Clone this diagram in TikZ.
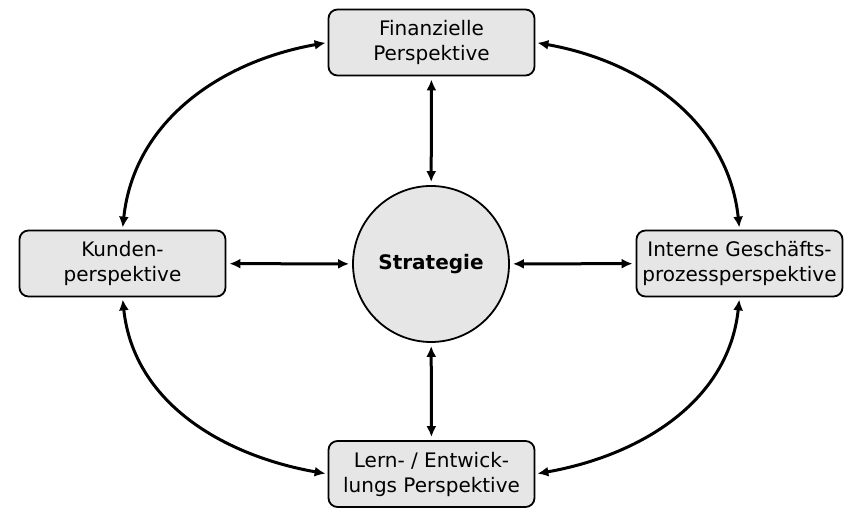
\documentclass[tikz,border=0pt]{standalone}
\usepackage{fontspec}
\setmainfont{DejaVu Sans}
\usetikzlibrary{arrows.meta}
\definecolor{boxgray}{HTML}{E6E6E6}
\begin{document}
\begin{tikzpicture}[x=1pt, y=1pt,
  perspbox/.style={draw, line width=1.8pt, fill=boxgray, rounded corners=9pt,
    align=center, minimum width=206pt, minimum height=66pt, inner sep=2pt,
    font=\fontsize{20}{25}\selectfont},
  stratcircle/.style={draw, circle, line width=1.8pt, fill=boxgray,
    minimum size=156pt, font=\fontsize{20}{25}\selectfont\bfseries},
  link/.style={line width=3pt, {Latex[length=11pt,width=10pt]}-{Latex[length=11pt,width=10pt]},
    shorten <=3pt, shorten >=3pt}]
\useasboundingbox (0,0) rectangle (858,518);

\node[perspbox] (fin) at (431.5,475.5) {Finanzielle\\ Perspektive};
\node[perspbox] (kunden) at (122.5,254.5) {Kunden-\\ perspektive};
\node[perspbox] (intern) at (739.5,254.5) {Interne Geschäfts-\\ prozessperspektive};
\node[perspbox] (lern) at (431.5,44) {Lern- / Entwick-\\ lungs Perspektive};
\node[stratcircle] (strat) at (431,254) {Strategie};

% Verbindungen zur Mitte
\draw[link] (fin) -- (strat);
\draw[link] (lern) -- (strat);
\draw[link] (kunden) -- (strat);
\draw[link] (intern) -- (strat);

% aeusserer Ring
\draw[link, shorten <=2pt, shorten >=2pt] (kunden.north) to[out=84, in=190] (fin.west);
\draw[link, shorten <=2pt, shorten >=2pt] (fin.east) to[out=-10, in=96] (intern.north);
\draw[link, shorten <=2pt, shorten >=2pt] (intern.south) to[out=-96, in=10] (lern.east);
\draw[link, shorten <=2pt, shorten >=2pt] (lern.west) to[out=170, in=-84] (kunden.south);
\end{tikzpicture}
\end{document}
